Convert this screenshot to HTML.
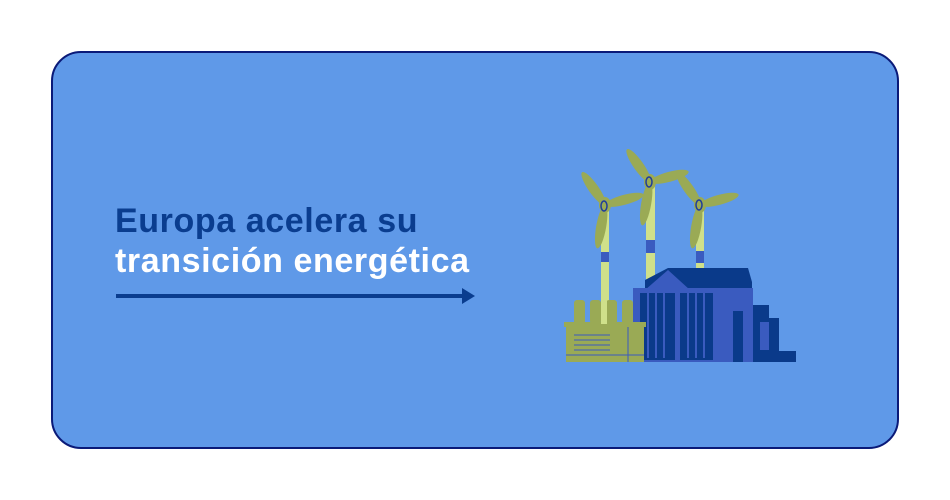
<!DOCTYPE html>
<html><head><meta charset="utf-8"><style>
html,body{margin:0;padding:0;background:#fff;width:950px;height:500px;overflow:hidden}
.card{position:absolute;left:51px;top:51px;width:844px;height:394px;background:#5f99e8;border:2px solid #0a1a78;border-radius:30px}
.t{position:absolute;left:115px;font-family:"Liberation Sans",sans-serif;font-weight:bold;font-size:34px;letter-spacing:0.6px;white-space:nowrap}
</style></head><body>
<div class="card"></div>
<div class="t" style="top:202px;color:#0a3d8f">Europa acelera su</div>
<div class="t" style="top:242px;color:#fff">transición energética</div>
<svg width="950" height="500" style="position:absolute;left:0;top:0">
<line x1="116" y1="296" x2="464" y2="296" stroke="#0a3d8f" stroke-width="4"/>
<polygon points="462,288 475,296 462,304" fill="#0a3d8f"/>
<g fill="#cfe08a">
<rect x="601" y="205" width="8" height="120"/>
<rect x="646" y="182" width="9" height="110"/>
<rect x="696" y="205" width="8" height="70"/>
</g>
<g fill="#3a5bbf">
<rect x="601" y="252" width="8" height="10"/>
<rect x="646" y="240" width="9" height="13"/>
<rect x="696" y="251" width="8" height="12"/>
</g>
<g fill="#9aaa55">
<g transform="translate(605,205)"><ellipse cx="0" cy="-20" rx="5" ry="20" transform="rotate(-35)"/><ellipse cx="0" cy="-20" rx="5" ry="20" transform="rotate(75)"/><ellipse cx="0" cy="-22" rx="5" ry="22" transform="rotate(190)"/><ellipse cx="0" cy="0" rx="6" ry="8"/></g>
<g transform="translate(650,182)"><ellipse cx="0" cy="-20" rx="5" ry="20" transform="rotate(-35)"/><ellipse cx="0" cy="-20" rx="5" ry="20" transform="rotate(75)"/><ellipse cx="0" cy="-22" rx="5" ry="22" transform="rotate(190)"/><ellipse cx="0" cy="0" rx="6" ry="8"/></g>
<g transform="translate(700,205)"><ellipse cx="0" cy="-20" rx="5" ry="20" transform="rotate(-35)"/><ellipse cx="0" cy="-20" rx="5" ry="20" transform="rotate(75)"/><ellipse cx="0" cy="-22" rx="5" ry="22" transform="rotate(190)"/><ellipse cx="0" cy="0" rx="6" ry="8"/></g>
</g>
<g fill="none" stroke="#1f3d9a" stroke-width="1.5">
<ellipse cx="604" cy="206" rx="3" ry="5"/><ellipse cx="649" cy="182" rx="3" ry="5"/><ellipse cx="699" cy="205" rx="3" ry="5"/>
</g>
<polygon points="645,290 645,280 668,268 748,268 752,282 752,290" fill="#0a3a8a"/>
<polygon points="645,290 668,270 690,290" fill="#3a5bbf"/>
<rect x="633" y="288" width="120" height="74" fill="#3a5bbf"/>
<rect x="640" y="293" width="35" height="67" fill="#0a3a8a"/>
<rect x="680" y="293" width="33" height="67" fill="#0a3a8a"/>
<g stroke="#3a5bbf" stroke-width="2"><line x1="648" y1="293" x2="648" y2="358"/><line x1="656" y1="293" x2="656" y2="358"/><line x1="664" y1="293" x2="664" y2="358"/><line x1="688" y1="293" x2="688" y2="358"/><line x1="696" y1="293" x2="696" y2="358"/><line x1="704" y1="293" x2="704" y2="358"/></g>
<rect x="733" y="311" width="10" height="51" fill="#0a3a8a"/>
<rect x="753" y="305" width="16" height="57" fill="#0a3a8a"/>
<rect x="769" y="318" width="10" height="44" fill="#0a3a8a"/>
<rect x="779" y="351" width="17" height="11" fill="#0a3a8a"/>
<rect x="760" y="322" width="9" height="28" fill="#3a5bbf"/>
<g fill="#9aaa55">
<rect x="574" y="300" width="11" height="24" rx="3"/><rect x="590" y="300" width="11" height="24" rx="3"/><rect x="606" y="300" width="11" height="24" rx="3"/><rect x="622" y="300" width="11" height="24" rx="3"/>
<rect x="564" y="322" width="82" height="5"/>
<rect x="566" y="327" width="78" height="35"/>
</g>
<rect x="601" y="300" width="6" height="24" fill="#cfe08a"/>
<g stroke="#3a5bbf" stroke-width="1"><line x1="574" y1="335" x2="610" y2="335"/><line x1="574" y1="340" x2="610" y2="340"/><line x1="574" y1="345" x2="610" y2="345"/><line x1="574" y1="350" x2="610" y2="350"/><line x1="566" y1="355" x2="644" y2="355"/><line x1="628" y1="327" x2="628" y2="362"/></g>
</svg>
</body></html>
